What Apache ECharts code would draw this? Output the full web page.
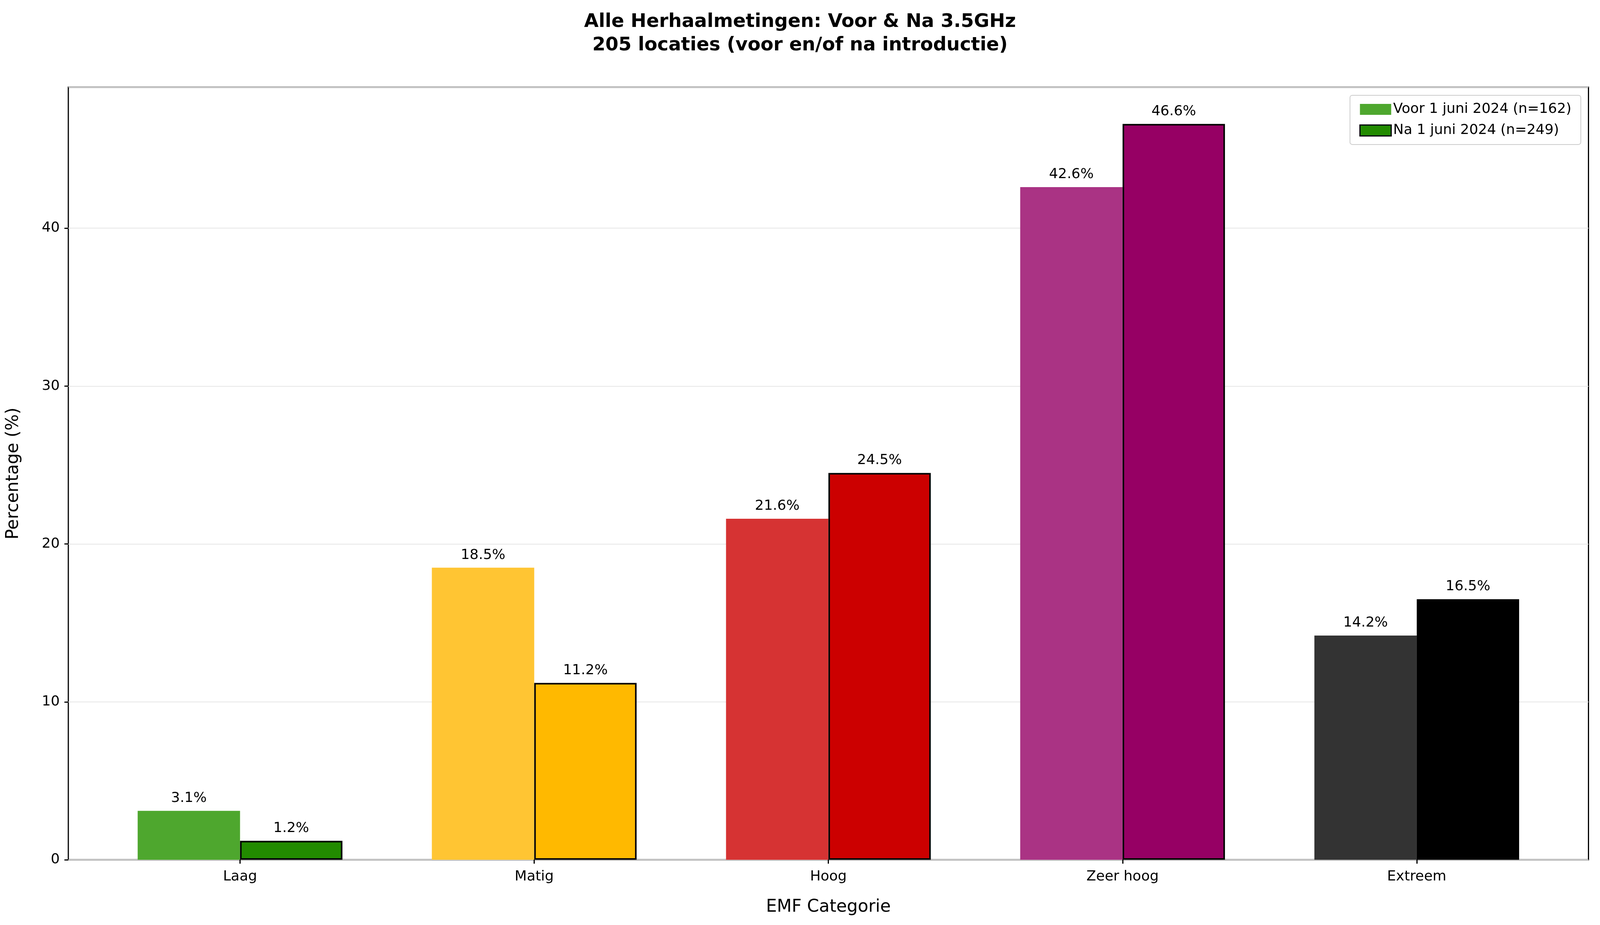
<!DOCTYPE html>
<html><head><meta charset="utf-8">
<script src="https://cdn.jsdelivr.net/npm/echarts@6/dist/echarts.min.js"></script>
<style>html,body{margin:0;padding:0;background:#fff;overflow:hidden}#c{width:100vw;height:100vh}</style>
</head><body><div id="c"></div>
<script>
const categories = ['Laag','Matig','Hoog','Zeer hoog','Extreem'];
const voorValues = [3.1,18.5,21.6,42.6,14.2];
const naValues = [1.2,11.2,24.5,46.6,16.5];
const voorColors = ['#4ea72e','#ffc533','#d63333','#aa3384','#333333'];
const naColors = ['#228b00','#ffb900','#cc0000','#960064','#000000'];
const yTicks = [0,10,20,30,40];
const YMAX = 48.93;
const F = 'DejaVu Sans';
const chart = echarts.init(document.getElementById('c'));
chart.setOption({
  animation:false,
  textStyle:{fontFamily:F},
  title:{text:'Alle Herhaalmetingen: Voor & Na 3.5GHz\n205 locaties (voor en/of na introductie)',left:'center',top:'0.9%',
    textStyle:{fontFamily:F,fontSize:48,fontWeight:'bold',color:'#000',lineHeight:60}},
  legend:{right:'1.2%',top:'10.3%',orient:'vertical',icon:'rect',itemWidth:80,itemHeight:28,itemGap:18,padding:[18,24],
    borderColor:'#cccccc',borderWidth:2,borderRadius:6,
    textStyle:{fontFamily:F,fontSize:36,color:'#000'},
    data:[{name:'Voor 1 juni 2024 (n=162)'},{name:'Na 1 juni 2024 (n=249)',itemStyle:{borderColor:'#000',borderWidth:3}}]},
  grid:[
    {left:'4.27%',right:'0.72%',top:'9.42%',bottom:'7.05%',show:true,borderColor:'#000',borderWidth:3,backgroundColor:'transparent'},
    {left:'5.81%',right:'2.26%',top:'9.42%',bottom:'7.05%'}
  ],
  xAxis:[
    {gridIndex:0,type:'value',min:0,max:1,show:false},
    {gridIndex:1,type:'category',data:categories,
     axisLine:{show:false},axisTick:{show:true,length:10,alignWithLabel:true,lineStyle:{color:'#000',width:3}},
     axisLabel:{fontFamily:F,fontSize:36,color:'#000',margin:26},
     name:'EMF Categorie',nameLocation:'middle',nameGap:100,nameTextStyle:{fontFamily:F,fontSize:44,color:'#000'}}
  ],
  yAxis:[
    {gridIndex:0,type:'value',min:0,max:YMAX,interval:10,
     axisLine:{show:false},axisTick:{show:true,length:10,lineStyle:{color:'#000',width:3}},
     axisLabel:{fontFamily:F,fontSize:36,color:'#000',margin:22,showMaxLabel:false,
       formatter:v=>yTicks.includes(v)?String(v):''},
     splitLine:{show:true,lineStyle:{color:'#e6e6e6',width:2}},
     name:'Percentage (%)',nameLocation:'middle',nameGap:118,nameTextStyle:{fontFamily:F,fontSize:44,color:'#000'}},
    {gridIndex:1,type:'value',min:0,max:YMAX,show:false}
  ],
  series:[
    {name:'Voor 1 juni 2024 (n=162)',type:'bar',xAxisIndex:1,yAxisIndex:1,barWidth:'34.8%',barGap:'0%',
     itemStyle:{color:voorColors[0]},
     data:voorValues.map((v,i)=>({value:v,itemStyle:{color:voorColors[i]}})),
     label:{show:true,position:'top',distance:14,formatter:p=>p.value.toFixed(1)+'%',fontFamily:F,fontSize:36,color:'#000'}},
    {name:'Na 1 juni 2024 (n=249)',type:'bar',xAxisIndex:1,yAxisIndex:1,barWidth:'34.8%',barGap:'0%',
     itemStyle:{color:naColors[0],borderColor:'#000',borderWidth:4},
     data:naValues.map((v,i)=>({value:v,itemStyle:{color:naColors[i],borderColor:'#000',borderWidth:4}})),
     label:{show:true,position:'top',distance:14,formatter:p=>p.value.toFixed(1)+'%',fontFamily:F,fontSize:36,color:'#000'}}
  ]
});
</script></body></html>
